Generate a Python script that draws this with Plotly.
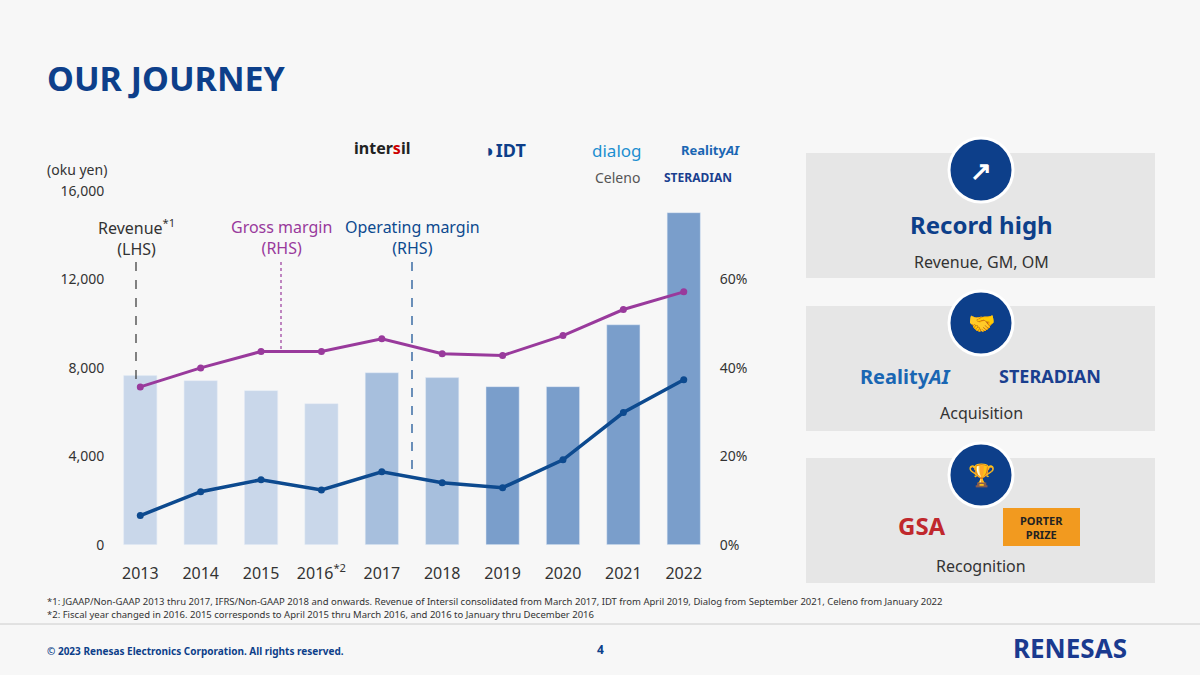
import plotly.graph_objects as go

years = ["2013", "2014", "2015", "2016<sup>*2</sup>", "2017", "2018", "2019", "2020", "2021", "2022"]
revenue = [7650, 7420, 6970, 6380, 7780, 7560, 7150, 7150, 9950, 15020]
gross_margin = [35.7, 40.0, 43.7, 43.7, 46.6, 43.2, 42.8, 47.3, 53.2, 57.2]
op_margin = [6.6, 12.0, 14.7, 12.4, 16.5, 14.0, 12.9, 19.2, 29.9, 37.3]
pct_ticks = [0, 20, 40, 60]
bar_colors = ["#c9d7ea"] * 4 + ["#a7bfdd"] * 2 + ["#7a9ecb"] * 4

NAVY = "#0d4a8f"
PURPLE = "#993a9c"
FONT = "Noto Sans"

fig = go.Figure()
fig.add_trace(go.Bar(x=years, y=revenue, marker_color=bar_colors, width=0.55, yaxis="y"))
fig.add_trace(go.Scatter(x=years, y=gross_margin, yaxis="y2", mode="lines+markers",
                         line=dict(color=PURPLE, width=3), marker=dict(size=7)))
fig.add_trace(go.Scatter(x=years, y=op_margin, yaxis="y2", mode="lines+markers",
                         line=dict(color=NAVY, width=3.5), marker=dict(size=7)))

fig.update_layout(
    width=1200, height=675, showlegend=False,
    paper_bgcolor="#f7f7f7", plot_bgcolor="#f7f7f7",
    margin=dict(l=0, r=0, t=0, b=0, autoexpand=False),
    font=dict(family=FONT, color="#333333", size=14),
    xaxis=dict(domain=[0.0877, 0.599], tickfont=dict(size=16), showgrid=False,
               showline=False, ticks="outside", ticklen=14, tickcolor="rgba(0,0,0,0)"),
    yaxis=dict(domain=[0.193, 0.717], range=[0, 16000], tickvals=[0, 4000, 8000, 12000, 16000],
               tickformat=",", showgrid=False, zeroline=False, tickfont=dict(size=14)),
    yaxis2=dict(overlaying="y", side="right", range=[0, 80], tickvals=pct_ticks,
                ticktext=[f"{v}%" for v in pct_ticks], showgrid=False, zeroline=False,
                tickfont=dict(size=14)),
)

ann = []
def text(x, y, s, size=14, color="#333333", bold=False, xanchor="left"):
    ann.append(dict(x=x / 1200, y=1 - y / 675, xref="paper", yref="paper", text=f"<b>{s}</b>" if bold else s,
                    showarrow=False, xanchor=xanchor, yanchor="middle",
                    font=dict(size=size, color=color, family=FONT)))

text(45, 78, "OUR JOURNEY", 34, "#0d3f8a", True)
text(45, 170, "(oku yen)", 14)
text(136, 237, "Revenue<sup>*1</sup><br>(LHS)", 16, xanchor="center")
text(281, 237, "Gross margin<br>(RHS)", 16, PURPLE, xanchor="center")
text(412, 237, "Operating margin<br>(RHS)", 16, NAVY, xanchor="center")
text(382, 148, "inter<span style='color:#c00'>s</span>il", 16, "#222", True, xanchor="center")
text(506, 150, "◗IDT", 18, "#0d3f8a", True, xanchor="center")
text(617, 150, "dialog", 17, "#1d8fd0", xanchor="center")
text(710, 150, "Reality<i>AI</i>", 13, "#1a66b3", True, xanchor="center")
text(617, 177, "Celeno", 14, "#555", xanchor="center")
text(698, 177, "STERADIAN", 12, "#1a3f8f", True, xanchor="center")

shapes = []
for top in [153, 306, 458]:
    shapes.append(dict(type="rect", xref="paper", yref="paper", x0=806/1200, x1=1155/1200,
                       y0=1-(top+125)/675, y1=1-top/675, fillcolor="#e6e6e6", line_width=0, layer="below"))
    cy = top + 17
    shapes.append(dict(type="circle", xref="paper", yref="paper", x0=949/1200, x1=1013/1200,
                       y0=1-(cy+32)/675, y1=1-(cy-32)/675, fillcolor="#0d3f8a", line=dict(color="white", width=3)))
text(981, 170, "↗", 26, "white", True, xanchor="center")
text(981, 322, "🤝", 22, "white", xanchor="center")
text(981, 474, "🏆", 22, "white", xanchor="center")
text(981, 224, "Record high", 24, "#0d3f8a", True, xanchor="center")
text(981, 262, "Revenue, GM, OM", 16, xanchor="center")
text(905, 376, "Reality<i>AI</i>", 20, "#1a66b3", True, xanchor="center")
text(1050, 376, "STERADIAN", 18, "#1a3f8f", True, xanchor="center")
text(981, 413, "Acquisition", 16, xanchor="center")
text(922, 525, "GSA", 24, "#c0282d", True, xanchor="center")
shapes.append(dict(type="rect", xref="paper", yref="paper", x0=1003/1200, x1=1080/1200,
                   y0=1-546/675, y1=1-508/675, fillcolor="#f29a1f", line_width=0))
text(1041, 527, "PORTER<br>PRIZE", 11, "#222", True, xanchor="center")
text(981, 566, "Recognition", 16, xanchor="center")

for x, y1, col, dash in [(136, 380, "#333333", "dash"), (281, 350, PURPLE, "dot"), (412, 475, NAVY, "dash")]:
    shapes.append(dict(type="line", xref="paper", yref="paper", x0=x/1200, x1=x/1200,
                       y0=1-262/675, y1=1-y1/675, line=dict(color=col, width=1.2, dash=dash)))

text(45, 601, "*1: JGAAP/Non-GAAP 2013 thru 2017, IFRS/Non-GAAP 2018 and onwards. Revenue of Intersil consolidated from March 2017, IDT from April 2019, Dialog from September 2021, Celeno from January 2022", 9.5)
text(45, 614, "*2: Fiscal year changed in 2016. 2015 corresponds to April 2015 thru March 2016, and 2016 to January thru December 2016", 9.5)
shapes.append(dict(type="line", xref="paper", yref="paper", x0=0, x1=1, y0=1-624/675, y1=1-624/675,
                   line=dict(color="#cccccc", width=1)))
text(45, 651, "© 2023 Renesas Electronics Corporation. All rights reserved.", 10, "#0d3f8a", True)
text(600, 649, "4", 12, "#0d3f8a", True, xanchor="center")
text(1070, 648, "RENESAS", 26, "#1a3a8f", True, xanchor="center")

fig.update_layout(annotations=ann, shapes=shapes)
fig.write_html("out.html", config={"displayModeBar": False},
               post_script="document.body.style.margin='0';")
